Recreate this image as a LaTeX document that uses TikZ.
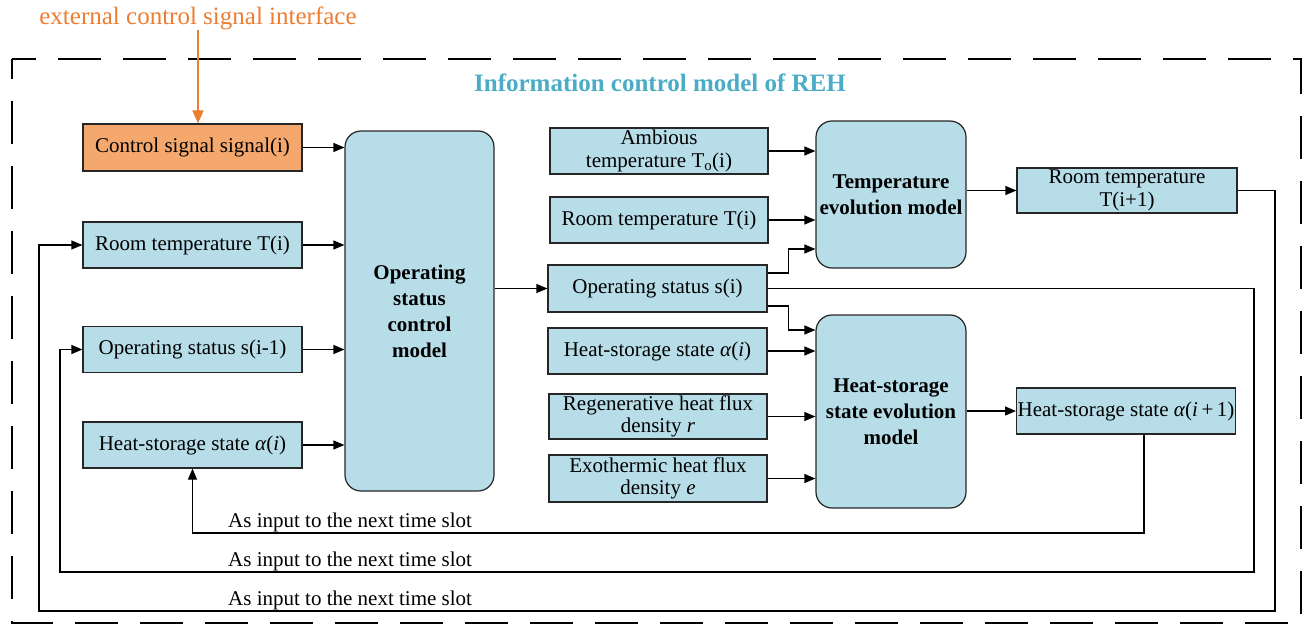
\documentclass[tikz,border=0pt]{standalone}
\usepackage{fontspec}
\setmainfont{Liberation Serif}
\usetikzlibrary{arrows.meta}
\definecolor{boxblue}{HTML}{B7DDE8}
\definecolor{boxorange}{HTML}{F4A86E}
\definecolor{extorange}{HTML}{ED7D31}
\definecolor{titleblue}{HTML}{4BACC6}
\newcommand\fsr{\fontsize{21}{22.5}\selectfont}
\newcommand\fsbold{\fontsize{21}{26}\selectfont\bfseries}
\begin{document}
\begin{tikzpicture}[x=1pt,y=-1pt,
  box/.style={draw=black!85, line width=1.2pt, fill=boxblue, minimum width=219pt, minimum height=46pt, inner sep=1pt, align=center, font=\fsr},
  bigbox/.style={box, rounded corners=16pt, font=\fsbold},
  conn/.style={line width=1.2pt, -{Triangle[length=11pt,width=9pt]}},
  lbl/.style={font=\fsr, anchor=base west, inner sep=0pt}]
\useasboundingbox (0,0) rectangle (1304,626);
% outer dashed frame
\draw[line width=2.8pt, dash pattern=on 43pt off 22pt, dash phase=23pt] (12,59) rectangle (1301,623);
% titles
\node[font=\fontsize{25}{27}\selectfont, text=extorange, inner sep=0pt] (ext) at (198,18) {external control signal interface};
\node[font=\fontsize{25}{27}\selectfont\bfseries, text=titleblue, inner sep=0pt] (ttl) at (660,83) {Information control model of REH};
% left column
\node[box, fill=boxorange, minimum height=47pt] (ctrl) at (192.5,147.5) {Control signal signal(i)};
\node[box] (trl) at (192.5,245) {Room temperature T(i)};
\node[box] (sm1) at (192.5,349.5) {Operating status s(i-1)};
\node[box] (al) at (192.5,445) {Heat-storage state \textit{α}(\textit{i})};
\node[bigbox, minimum width=149pt, minimum height=360pt] (op) at (419.5,311) {Operating\\status\\control\\model};
% middle column
\node[box, minimum width=218pt] (amb) at (659,151) {Ambious\\temperature T\textsubscript{o}(i)};
\node[box, minimum width=218pt] (tr2) at (659,220) {Room temperature T(i)};
\node[box, minimum height=47pt] (si) at (657.5,288.5) {Operating status s(i)};
\node[box] (al2) at (657.5,351) {Heat-storage state \textit{α}(\textit{i})};
\node[box, minimum width=218pt, minimum height=45pt] (reg) at (658,416.5) {Regenerative heat flux\\density \textit{r}};
\node[box, minimum width=218pt, minimum height=47pt] (exo) at (658,478.5) {Exothermic heat flux\\density \textit{e}};
% evolution models
\node[bigbox, minimum width=150pt, minimum height=147pt] (tev) at (891,194.5) {Temperature\\evolution model};
\node[bigbox, minimum width=150pt, minimum height=193pt] (hev) at (891,411.5) {Heat-storage\\state evolution\\model};
% outputs
\node[box, minimum width=220pt, minimum height=45pt] (tip1) at (1127,190.5) {Room temperature\\T(i+1)};
\node[box, minimum width=218pt] (aip1) at (1126,411) {Heat-storage state \textit{α}(\textit{i}\,+\,1)};
% external arrow
\draw[line width=2pt, draw=extorange, -{Triangle[length=13pt,width=11pt]}] (ext.south) -- (ext.south |- ctrl.north);
% inputs to operating status control model
\draw[conn] (ctrl.east) -- (ctrl.east -| op.west);
\draw[conn] (trl.east) -- (trl.east -| op.west);
\draw[conn] (sm1.east) -- (sm1.east -| op.west);
\draw[conn] (al.east) -- (al.east -| op.west);
\draw[conn] (op.east |- si) -- (si.west);
% inputs to temperature evolution model
\draw[conn] (amb.east) -- (amb.east -| tev.west);
\draw[conn] (tr2.east) -- (tr2.east -| tev.west);
\draw[conn] ([yshift=15.5pt]si.east) -- ++(21pt,0) |- ([yshift=-54.5pt]tev.west);
% inputs to heat-storage evolution model
\draw[conn] ([yshift=-17.5pt]si.east) -- ++(21pt,0) |- ([yshift=81.5pt]hev.west);
\draw[conn] (al2.east) -- (al2.east -| hev.west);
\draw[conn] (reg.east) -- (reg.east -| hev.west);
\draw[conn] (exo.east) -- (exo.east -| hev.west);
% outputs
\draw[conn] (tev.east |- tip1) -- (tip1.west);
\draw[conn] (hev.east |- aip1) -- (aip1.west);
% feedback loops
\coordinate (f1) at (0,533);
\coordinate (r2) at (1254,572);
\coordinate (l2) at (60,572);
\coordinate (r3) at (1275,611);
\coordinate (l3) at (39,611);
\draw[conn] ([xshift=18pt]aip1.south) -- ([xshift=18pt]aip1.south |- f1) -| (al.south);
\draw[conn] (si.east) -| (r2) -- (l2) |- (sm1.west);
\draw[conn] (tip1.east) -| (r3) -- (l3) |- (trl.west);
\node[lbl] (t1) at (228,527) {As input to the next time slot};
\node[lbl] (t2) at (228,566.5) {As input to the next time slot};
\node[lbl] (t3) at (228,605.5) {As input to the next time slot};
\end{tikzpicture}
\end{document}
